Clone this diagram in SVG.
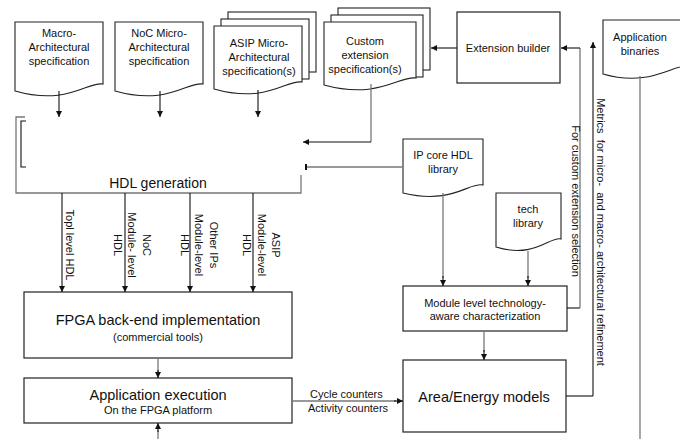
<svg xmlns="http://www.w3.org/2000/svg" width="680" height="439" viewBox="0 0 680 439">
<defs>
<marker id="ah" markerUnits="userSpaceOnUse" markerWidth="7" markerHeight="7" refX="6" refY="3" orient="auto"><path d="M0,0 L6,3 L0,6 z" fill="#111"/></marker>
<style>
text{font-family:"Liberation Sans",Arial,sans-serif;fill:#111;font-size:11px;text-anchor:middle}
.big{font-size:14.5px}
.box{fill:#fff;stroke:#222;stroke-width:1.2}
.doc{fill:#fff;stroke:#222;stroke-width:1.1}
.ln{fill:none;stroke:#111;stroke-width:1.1}
.gl{fill:none;stroke:#777;stroke-width:1.3}
.vt{dominant-baseline:central}
</style>
</defs>

<g id="macro-spec">
<path class="doc" d="M15,22 H103 V84 C88,81 68,106 15,91 Z"/>
<text x="59" y="37">Macro-</text><text x="59" y="51">Architectural</text><text x="59" y="65">specification</text>
</g>
<g id="noc-spec">
<path class="doc" d="M115,22 H203 V84 C188,81 168,106 115,91 Z"/>
<text x="159" y="37">NoC Micro-</text><text x="159" y="51">Architectural</text><text x="159" y="65">specification</text>
</g>
<g id="asip-spec">
<rect class="doc" x="228" y="12" width="88" height="60"/>
<rect class="doc" x="221" y="19" width="88" height="60"/>
<path class="doc" d="M214,26 H302 V82 C287,79 267,104 214,89 Z"/>
<text x="259" y="47">ASIP Micro-</text><text x="259" y="61">Architectural</text><text x="259" y="75">specification(s)</text>
</g>
<g id="custom-spec">
<rect class="doc" x="338" y="8" width="92" height="62"/>
<rect class="doc" x="331" y="15" width="92" height="62"/>
<path class="doc" d="M324,22 H416 V78 C400,75 379,100 324,85 Z"/>
<text x="365" y="45">Custom</text><text x="365" y="59">extension</text><text x="365" y="73">specification(s)</text>
</g>
<g id="extension-builder">
<rect class="box" x="457" y="12" width="103" height="71"/>
<text x="508" y="52">Extension builder</text>
</g>
<g id="app-binaries">
<path class="doc" d="M603,20 H690 V66 C674,63 651,88 603,74 Z"/>
<text x="640" y="41">Application</text><text x="640" y="55">binaries</text>
</g>
<g id="hdl-generation">
<path class="gl" d="M25,117 H16 V193 H301 V175"/>
<path class="ln" d="M26,121 H21 V167 H26"/>
<text class="big" x="158" y="188" style="font-size:14px">HDL generation</text>
</g>
<g id="ip-core-lib">
<path class="doc" d="M403,139 H483 V185 C469,182 452,205 403,193 Z"/>
<text x="443" y="159">IP core HDL</text><text x="443" y="173">library</text>
</g>
<g id="tech-lib">
<path class="doc" d="M496,193 H561 V239 C550,236 535,259 496,247 Z"/>
<text x="528" y="213">tech</text><text x="528" y="227">library</text>
</g>
<g id="module-char">
<rect class="box" x="403" y="286" width="164" height="45"/>
<text x="485" y="307">Module level technology-</text><text x="485" y="320">aware characterization</text>
</g>
<g id="area-energy">
<rect class="box" x="403" y="360" width="163" height="72"/>
<text class="big" x="484" y="402">Area/Energy models</text>
</g>
<g id="fpga-backend">
<rect class="box" x="24" y="292" width="268" height="66"/>
<text class="big" x="158" y="325">FPGA back-end implementation</text>
<text x="158" y="341">(commercial tools)</text>
</g>
<g id="app-exec">
<rect class="box" x="24" y="378" width="268" height="45"/>
<text class="big" x="158" y="400">Application execution</text>
<text x="158" y="414">On the FPGA platform</text>
</g>

<g id="connectors">
<path class="ln" d="M59,91 V117" marker-end="url(#ah)"/>
<path class="ln" d="M160,91 V117" marker-end="url(#ah)"/>
<path class="ln" d="M258,90 V117" marker-end="url(#ah)"/>
<path class="gl" d="M371,84 V142"/>
<path class="ln" d="M371,142 H303" marker-end="url(#ah)"/>
<path class="gl" d="M403,167 H306"/>
<path class="ln" d="M306,164 V170" style="stroke-width:2"/>
<path class="ln" d="M457,48 H431" marker-end="url(#ah)"/>
<path class="ln" d="M62,193 V292" marker-end="url(#ah)"/>
<path class="ln" d="M125,193 V292" marker-end="url(#ah)"/>
<path class="ln" d="M190,193 V292" marker-end="url(#ah)"/>
<path class="ln" d="M253,193 V292" marker-end="url(#ah)"/>
<path class="gl" d="M158,358 V372"/>
<path class="ln" d="M158,370 V378" marker-end="url(#ah)"/>
<path class="gl" d="M158,439 V430"/>
<path class="ln" d="M158,432 V423" marker-end="url(#ah)"/>
<path class="gl" d="M292,401 H396"/>
<path class="ln" d="M394,401 H403" marker-end="url(#ah)"/>
<path class="gl" d="M443,193 V278"/>
<path class="ln" d="M443,276 V286" marker-end="url(#ah)"/>
<path class="gl" d="M528,251 V278"/>
<path class="ln" d="M528,276 V286" marker-end="url(#ah)"/>
<path class="gl" d="M484,331 V352"/>
<path class="ln" d="M484,350 V360" marker-end="url(#ah)"/>
<path class="ln" d="M567,308 H580"/>
<path class="gl" d="M580,308 V48"/>
<path class="ln" d="M580,48 H561" marker-end="url(#ah)"/>
<path class="ln" d="M566,396 H593"/>
<path class="ln" d="M593,396 V42" marker-end="url(#ah)"/>
<path class="gl" d="M640,76 V439"/>
</g>

<g id="labels">
<text class="vt" transform="translate(70,245) rotate(90)">Topl level HDL</text>
<text class="vt" transform="translate(132,245) rotate(90)"><tspan x="0" y="-14.5">NoC</tspan><tspan x="0" y="0">Module- level</tspan><tspan x="0" y="14.5">HDL</tspan></text>
<text class="vt" transform="translate(199,245) rotate(90)"><tspan x="0" y="-14.5">Other IPs</tspan><tspan x="0" y="0">Module-level</tspan><tspan x="0" y="14.5">HDL</tspan></text>
<text class="vt" transform="translate(261.5,245) rotate(90)"><tspan x="0" y="-14.5">ASIP</tspan><tspan x="0" y="0">Module-level</tspan><tspan x="0" y="14.5">HDL</tspan></text>
<text x="310" y="398" style="text-anchor:start">Cycle counters</text>
<text x="308" y="412" style="text-anchor:start">Activity counters</text>
<text class="vt" transform="translate(576,201) rotate(90)">For custom extension selection</text>
<text class="vt" transform="translate(601,232) rotate(90)" style="white-space:pre">Metrics  for micro-  and macro- architectural refinement</text>
</g>
</svg>
